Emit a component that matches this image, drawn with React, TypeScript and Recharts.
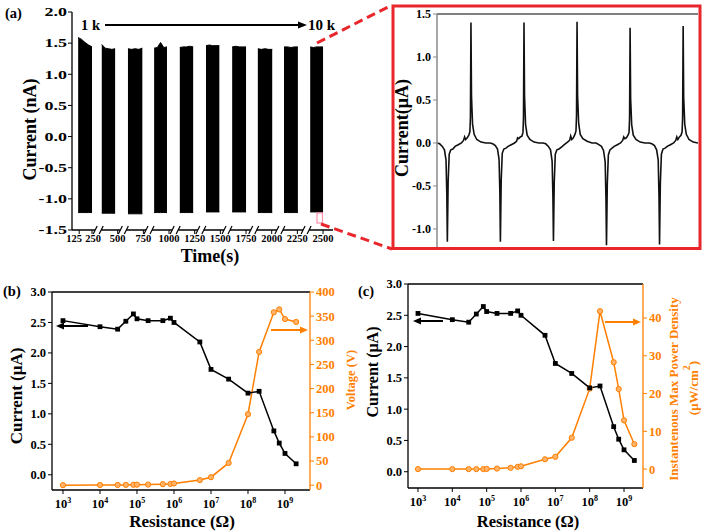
import React from 'react';
import { ComposedChart, Area, Line, XAxis, YAxis, ReferenceLine, ReferenceDot } from 'recharts';

const FONT = "'Liberation Serif','Times New Roman',serif";
const ORANGE = '#ff7f00';
const RED = '#e8262b';

// ---------- panel (a): current blocks over time ----------
const blockStart = [115, 345, 600, 855, 1105, 1360, 1615, 1865, 2120, 2375];
const blockEnd = [250, 475, 740, 980, 1235, 1490, 1750, 2005, 2255, 2500];
const blockLow = [-1.22, -1.23, -1.24, -1.22, -1.22, -1.21, -1.21, -1.22, -1.22, -1.21];
const blockTop = [
  [1.59, 1.56, 1.51, 1.47, 1.44],
  [1.48, 1.42, 1.41, 1.4, 1.41],
  [1.41, 1.4, 1.41, 1.4, 1.42],
  [1.42, 1.43, 1.51, 1.43, 1.44],
  [1.43, 1.44, 1.44, 1.45, 1.44],
  [1.46, 1.47, 1.46, 1.46, 1.46],
  [1.44, 1.45, 1.44, 1.44, 1.44],
  [1.41, 1.4, 1.41, 1.4, 1.4],
  [1.44, 1.44, 1.43, 1.44, 1.44],
  [1.44, 1.43, 1.44, 1.44, 1.44],
];
const blockFrac = [0, 0.25, 0.5, 0.75, 1];
const timeTicks = [125, 250, 500, 750, 1000, 1250, 1500, 1750, 2000, 2250, 2500];
const breakTimes = [310, 555, 805, 1060, 1310, 1565, 1825, 2080, 2335];
const currentTicksA = [-1.5, -1, -0.5, 0, 0.5, 1, 1.5, 2];

// ---------- inset: zoomed waveform ----------
const insetPeriodStart = [0, 1, 2, 3, 4];
const insetOffsets = [0, 0.05, 0.1, 0.14, 0.17, 0.185, 0.195, 0.21, 0.23, 0.26, 0.3, 0.34, 0.4, 0.46, 0.5, 0.52, 0.54, 0.57, 0.6, 0.62, 0.63, 0.64, 0.65, 0.67, 0.7, 0.75, 0.83, 0.92];
const insetP1 = [0, -0.01, -0.04, -0.08, -0.2, -0.6, -1.15, -0.45, -0.13, -0.08, -0.07, -0.04, -0.02, 0, 0.03, 0.07, 0.04, 0.06, 0.09, 0.13, 0.3, 1.4, 0.55, 0.22, 0.1, 0.04, 0.01, 0];
const insetP2 = [0, -0.01, -0.03, -0.07, -0.19, -0.58, -1.15, -0.44, -0.12, -0.07, -0.06, -0.04, -0.02, 0, 0.02, 0.06, 0.05, 0.07, 0.08, 0.12, 0.28, 1.4, 0.55, 0.21, 0.09, 0.04, 0.01, 0];
const insetP3 = [0, -0.01, -0.04, -0.08, -0.21, -0.62, -1.14, -0.46, -0.13, -0.08, -0.07, -0.05, -0.02, 0.01, 0.03, 0.08, 0.04, 0.06, 0.1, 0.14, 0.32, 1.41, 0.56, 0.23, 0.1, 0.05, 0.02, 0];
const insetP4 = [0, -0.02, -0.04, -0.09, -0.22, -0.65, -1.19, -0.48, -0.14, -0.08, -0.06, -0.04, -0.02, 0, 0.03, 0.07, 0.05, 0.06, 0.09, 0.12, 0.28, 1.34, 0.52, 0.21, 0.09, 0.04, 0.01, 0];
const insetP5 = [0, -0.01, -0.03, -0.08, -0.2, -0.63, -1.18, -0.47, -0.13, -0.07, -0.06, -0.04, -0.02, 0, 0.03, 0.07, 0.04, 0.07, 0.09, 0.13, 0.29, 1.36, 0.53, 0.22, 0.1, 0.04, 0.01, 0];
const insetPeriods = [insetP1, insetP2, insetP3, insetP4, insetP5];
const insetTicks = [-1, -0.5, 0, 0.5, 1, 1.5];

// ---------- panels (b) and (c): load resistance sweep ----------
const resistance = [1e3, 1e4, 3e4, 5e4, 8e4, 1e5, 2e5, 5e5, 8e5, 1e6, 5e6, 1e7, 3e7, 1e8, 2e8, 5e8, 7e8, 1e9, 2e9];
const currentUA = [2.53, 2.43, 2.39, 2.52, 2.64, 2.56, 2.53, 2.53, 2.57, 2.5, 2.18, 1.73, 1.57, 1.34, 1.37, 0.72, 0.52, 0.35, 0.18];
const voltageV = [0, 0.3, 0.5, 0.6, 0.8, 1, 1.3, 2, 2.5, 3.5, 10.5, 16.5, 46, 147, 276, 358, 364, 344, 338];
const powerDensity = [0, 0, 0, 0, 0, 0.05, 0.15, 0.35, 0.6, 0.75, 2.6, 3.25, 8.3, 21.3, 41.8, 28.3, 21.2, 12.9, 6.6];
const decadeTicks = [1e3, 1e4, 1e5, 1e6, 1e7, 1e8, 1e9];
const currentTicksB = [0, 0.5, 1, 1.5, 2, 2.5, 3];
const voltageTicks = [0, 50, 100, 150, 200, 250, 300, 350, 400];
const powerTicks = [0, 10, 20, 30, 40];

// ---------- derived tables ----------
const dataA: any[] = [];
blockStart.forEach((s, i) => {
  blockFrac.forEach((f, j) => {
    dataA.push({ t: s + f * (blockEnd[i] - s), range: [blockLow[i], blockTop[i][j]] });
  });
  if (i < blockStart.length - 1) dataA.push({ t: (blockEnd[i] + blockStart[i + 1]) / 2, range: null });
});

const insetData: any[] = [];
insetPeriods.forEach((vals, k) => {
  insetOffsets.forEach((o, j) => insetData.push({ t: insetPeriodStart[k] + o, v: vals[j] }));
});
insetData.push({ t: 4.92, v: 0 });

const dataBC = resistance.map((r, i) => ({ r, cur: currentUA[i], volt: voltageV[i], pow: powerDensity[i] }));

// ---------- tick renderers ----------
const StretchTick = (props: any) => {
  const { x, y, payload } = props;
  return (
    <g transform={`translate(${x},${y})`}>
      <text transform="scale(1.5,1)" textAnchor="end" dy="0.36em" fontSize={12} fontWeight={700} fill="#000" fontFamily={FONT}>
        {Number(payload.value).toFixed(1)}
      </text>
    </g>
  );
};

const TimeTick = (props: any) => {
  const { x, y, payload } = props;
  const dx = payload.value === 125 ? -5 : payload.value === 250 ? 1 : 0;
  return (
    <text x={x + dx} y={y + 7} textAnchor="middle" fontSize={10.5} fontWeight={700} fill="#000" fontFamily={FONT}>
      {payload.value}
    </text>
  );
};

const LogTick = (props: any) => {
  const { x, y, payload } = props;
  const e = Math.round(Math.log10(payload.value));
  return (
    <text x={x} y={y + 12} textAnchor="middle" fontSize={12.5} fontWeight={700} fill="#000" fontFamily={FONT}>
      10<tspan dy={-5} fontSize={8}>{e}</tspan>
    </text>
  );
};

const BreakMark = (props: any) => {
  const { cx, cy } = props;
  if (cx == null || cy == null) return <g />;
  return (
    <g>
      <rect x={cx - 3} y={cy - 2} width={6} height={4} fill="#fff" />
      <line x1={cx - 5} y1={cy + 4} x2={cx - 1} y2={cy - 4} stroke="#000" strokeWidth={1.2} />
      <line x1={cx + 1} y1={cy + 4} x2={cx + 5} y2={cy - 4} stroke="#000" strokeWidth={1.2} />
    </g>
  );
};

const SquareDot = (p: any) => {
  if (p.cx == null || p.cy == null) return <g key={`s${p.index}`} />;
  return <rect key={`s${p.index}`} x={p.cx - 2.4} y={p.cy - 2.4} width={4.8} height={4.8} fill="#000" />;
};

const tickStyle = { fill: '#000', fontSize: 12.5, fontWeight: 700, fontFamily: FONT };
const orangeTickStyle = { fill: ORANGE, fontSize: 12.5, fontWeight: 700, fontFamily: FONT };
const blackAxis = { stroke: '#000', strokeWidth: 1.3 };
const orangeAxis = { stroke: ORANGE, strokeWidth: 1.3 };

const abs = (left: number, top: number): React.CSSProperties => ({ position: 'absolute', left, top });

const Arrow = ({ x1, x2, y, color, head }: { x1: number; x2: number; y: number; color: string; head: number }) => {
  const dir = x2 > x1 ? 1 : -1;
  const base = x2 - dir * head;
  return (
    <g>
      <line x1={x1} y1={y} x2={base} y2={y} stroke={color} strokeWidth={2} />
      <polygon points={`${x2},${y} ${base},${y - 3.5} ${base},${y + 3.5}`} fill={color} />
    </g>
  );
};

export default function App() {
  return (
    <div style={{ position: 'absolute', left: 0, top: 0, width: 703, height: 532, background: '#fff', fontFamily: FONT }}>
      {/* panel (a) */}
      <div style={abs(0, 0)}>
        <ComposedChart width={345} height={270} data={dataA} margin={{ top: 12, right: 12, bottom: 10, left: 32 }}>
          <XAxis
            type="number"
            dataKey="t"
            domain={[55, 2597]}
            ticks={timeTicks}
            interval={0}
            allowDataOverflow
            height={30}
            tick={<TimeTick />}
            tickSize={4}
            tickMargin={1}
            axisLine={blackAxis}
            tickLine={{ stroke: '#000' }}
          />
          <YAxis
            type="number"
            domain={[-1.5, 2]}
            ticks={currentTicksA}
            interval={0}
            allowDataOverflow
            width={40}
            tick={<StretchTick />}
            tickSize={4}
            tickMargin={1}
            axisLine={blackAxis}
            tickLine={{ stroke: '#000' }}
          />
          <Area
            type="linear"
            dataKey="range"
            stroke="#000"
            strokeWidth={1}
            fill="#000"
            fillOpacity={1}
            isAnimationActive={false}
            connectNulls={false}
            dot={false}
            activeDot={false}
          />
          {breakTimes.map((b) => (
            <ReferenceDot key={b} x={b} y={-1.5} ifOverflow="visible" shape={(p: any) => <BreakMark {...p} />} />
          ))}
        </ComposedChart>
      </div>

      {/* inset */}
      <div style={abs(395, 0)}>
        <ComposedChart width={308} height={255} data={insetData} margin={{ top: 14, right: 5, bottom: 8, left: 2 }}>
          <XAxis type="number" dataKey="t" domain={[0, 4.92]} hide height={0} allowDataOverflow />
          <YAxis
            type="number"
            domain={[-1.21, 1.5]}
            ticks={insetTicks}
            interval={0}
            allowDataOverflow
            width={40}
            tick={{ ...tickStyle, fontSize: 12 }}
            tickFormatter={(v: number) => v.toFixed(1)}
            tickSize={4}
            tickMargin={2}
            axisLine={{ stroke: '#8a8a8a', strokeWidth: 1.5 }}
            tickLine={{ stroke: '#8a8a8a' }}
          />
          <ReferenceLine y={1.5} stroke="#000" strokeWidth={1.2} ifOverflow="visible" />
          <Line type="linear" dataKey="v" stroke="#111" strokeWidth={1.6} dot={false} activeDot={false} isAnimationActive={false} />
        </ComposedChart>
      </div>

      {/* panel (b) */}
      <div style={abs(0, 270)}>
        <ComposedChart width={350} height={262} data={dataBC} margin={{ top: 22, right: 0, bottom: 12, left: 12 }}>
          <XAxis
            type="number"
            dataKey="r"
            scale="log"
            domain={[505, 4.74e9]}
            ticks={decadeTicks}
            interval={0}
            allowDataOverflow
            height={30}
            tick={<LogTick />}
            tickSize={4}
            axisLine={blackAxis}
            tickLine={{ stroke: '#000' }}
          />
          <YAxis
            yAxisId="L"
            type="number"
            domain={[-0.25, 3]}
            ticks={currentTicksB}
            interval={0}
            allowDataOverflow
            width={40}
            tick={tickStyle}
            tickFormatter={(v: number) => v.toFixed(1)}
            tickSize={4}
            tickMargin={2}
            axisLine={blackAxis}
            tickLine={{ stroke: '#000' }}
          />
          <YAxis
            yAxisId="R"
            orientation="right"
            type="number"
            domain={[-10, 400]}
            ticks={voltageTicks}
            interval={0}
            allowDataOverflow
            width={40}
            tick={orangeTickStyle}
            tickSize={4}
            tickMargin={2}
            axisLine={orangeAxis}
            tickLine={{ stroke: ORANGE }}
          />
          <ReferenceLine yAxisId="L" y={3} stroke="#000" strokeWidth={1.3} ifOverflow="visible" />
          <Line yAxisId="R" type="linear" dataKey="volt" stroke={ORANGE} strokeWidth={1.5} dot={{ r: 2.6, fill: '#ffb36b', stroke: ORANGE, strokeWidth: 1 }} activeDot={false} isAnimationActive={false} />
          <Line yAxisId="L" type="linear" dataKey="cur" stroke="#000" strokeWidth={1.5} dot={SquareDot} activeDot={false} isAnimationActive={false} />
        </ComposedChart>
      </div>

      {/* panel (c) */}
      <div style={abs(350, 270)}>
        <ComposedChart width={353} height={262} data={dataBC} margin={{ top: 14, right: 20, bottom: 14, left: 18 }}>
          <XAxis
            type="number"
            dataKey="r"
            scale="log"
            domain={[512, 3.57e9]}
            ticks={decadeTicks}
            interval={0}
            allowDataOverflow
            height={30}
            tick={<LogTick />}
            tickSize={4}
            axisLine={blackAxis}
            tickLine={{ stroke: '#000' }}
          />
          <YAxis
            yAxisId="L"
            type="number"
            domain={[-0.26, 3]}
            ticks={currentTicksB}
            interval={0}
            allowDataOverflow
            width={40}
            tick={tickStyle}
            tickFormatter={(v: number) => v.toFixed(1)}
            tickSize={4}
            tickMargin={2}
            axisLine={blackAxis}
            tickLine={{ stroke: '#000' }}
          />
          <YAxis
            yAxisId="R"
            orientation="right"
            type="number"
            domain={[-5, 49]}
            ticks={powerTicks}
            interval={0}
            allowDataOverflow
            width={40}
            tick={orangeTickStyle}
            tickSize={4}
            tickMargin={2}
            axisLine={orangeAxis}
            tickLine={{ stroke: ORANGE }}
          />
          <ReferenceLine yAxisId="L" y={3} stroke="#000" strokeWidth={1.3} ifOverflow="visible" />
          <Line yAxisId="R" type="linear" dataKey="pow" stroke={ORANGE} strokeWidth={1.5} dot={{ r: 2.6, fill: '#ffb36b', stroke: ORANGE, strokeWidth: 1 }} activeDot={false} isAnimationActive={false} />
          <Line yAxisId="L" type="linear" dataKey="cur" stroke="#000" strokeWidth={1.5} dot={SquareDot} activeDot={false} isAnimationActive={false} />
        </ComposedChart>
      </div>

      {/* overlay: titles and annotations */}
      <svg width={703} height={532} style={{ position: 'absolute', left: 0, top: 0, pointerEvents: 'none' }} fontFamily={FONT} fontWeight={700}>
        {/* panel letters */}
        <text x={5} y={18} fontSize={14.5}>(a)</text>
        <text x={3} y={296} fontSize={14.5}>(b)</text>
        <text x={358} y={296} fontSize={14.5}>(c)</text>

        {/* panel (a) */}
        <text x={81} y={30} fontSize={14.5}>1 k</text>
        <Arrow x1={105} x2={307} y={25} color="#000" head={9} />
        <text x={308} y={30} fontSize={15}>10 k</text>
        <text x={36} y={129.5} fontSize={18} textAnchor="middle" transform="rotate(-90 36 129.5)">Current (nA)</text>
        <text x={210} y={262} fontSize={18} textAnchor="middle">Time(s)</text>
        <rect x={317} y={213} width={5.5} height={10} fill="none" stroke="#ff8fab" strokeWidth={1.2} />
        <line x1={317} y1={43} x2={392} y2={5} stroke={RED} strokeWidth={3} strokeDasharray="9 5" />
        <line x1={321} y1={224} x2={392} y2={249} stroke={RED} strokeWidth={3} strokeDasharray="9 5" />
        <rect x={393} y={6} width={307} height={242.5} fill="none" stroke={RED} strokeWidth={3} />

        {/* inset */}
        <text x={408} y={128} fontSize={18} textAnchor="middle" transform="rotate(-90 408 128)">Current(μA)</text>

        {/* panel (b) */}
        <text x={22} y={396} fontSize={17} textAnchor="middle" transform="rotate(-90 22 396)">Current (μA)</text>
        <text x={182} y={527} fontSize={17} textAnchor="middle">Resistance (Ω)</text>
        <text x={355} y={380} fontSize={12.5} fill={ORANGE} textAnchor="middle" transform="rotate(-90 355 380)">Voltage (V)</text>
        <Arrow x1={88} x2={56} y={326} color="#000" head={8} />
        <Arrow x1={271} x2={308} y={330} color={ORANGE} head={8} />

        {/* panel (c) */}
        <text x={377.5} y={372} fontSize={16} textAnchor="middle" transform="rotate(-90 377.5 372)">Current (μA)</text>
        <text x={528} y={527} fontSize={16.5} textAnchor="middle">Resistance (Ω)</text>
        <text x={678} y={389} fontSize={13} fill={ORANGE} textAnchor="middle" transform="rotate(-90 678 389)">Instantenous Max Power Density</text>
        <text x={698} y={388} fontSize={13} fill={ORANGE} textAnchor="middle" transform="rotate(-90 698 388)">
          (μW/cm<tspan dy={-8} fontSize={10}>2</tspan><tspan dy={8}>)</tspan>
        </text>
        <Arrow x1={443} x2={413} y={321} color="#000" head={8} />
        <Arrow x1={605} x2={641} y={322} color={ORANGE} head={8} />
      </svg>
    </div>
  );
}
